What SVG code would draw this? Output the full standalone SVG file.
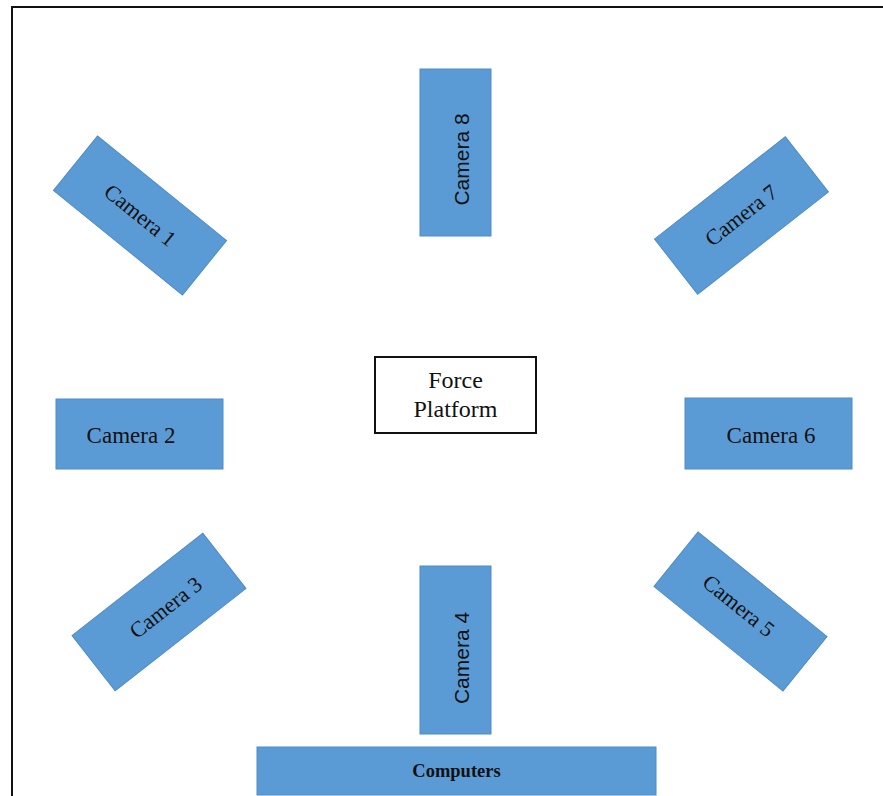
<svg xmlns="http://www.w3.org/2000/svg" width="883" height="796" viewBox="0 0 883 796">
<style>
.cam{fill:#5B9BD5;stroke:#4F8CC6;stroke-width:1}
.t{font-family:"Liberation Serif","Times New Roman",serif;font-size:22px;fill:#111;text-anchor:middle}
.h{font-size:23px}
.s{font-family:"Liberation Sans",Arial,sans-serif;font-size:21px;fill:#111;text-anchor:middle}
</style>
<rect x="12" y="7" width="900" height="820" fill="#fff" stroke="#111" stroke-width="2"/>
<g id="connectors"/>
<g id="camera1" transform="translate(140,215.5) rotate(39)">
<rect class="cam" x="-83" y="-35" width="166" height="70"/>
<text class="t" x="0" y="7">Camera 1</text>
</g>
<g id="camera8" transform="translate(455.5,152.5) rotate(-90)">
<rect class="cam" x="-83.5" y="-35.5" width="167" height="71"/>
<text class="s" x="-7" y="13">Camera 8</text>
</g>
<g id="camera7" transform="translate(741.5,215.5) rotate(-38)">
<rect class="cam" x="-83" y="-35" width="166" height="70"/>
<text class="t" x="0" y="7">Camera 7</text>
</g>
<g id="camera2">
<rect class="cam" x="56" y="399" width="167" height="70"/>
<text class="t h" x="131" y="443">Camera 2</text>
</g>
<g id="forceplatform">
<rect x="375" y="357" width="161" height="76" fill="#fff" stroke="#111" stroke-width="2"/>
<text class="t" x="455.5" y="388" style="font-size:24px">Force</text>
<text class="t" x="455.5" y="417" style="font-size:24px">Platform</text>
</g>
<g id="camera6">
<rect class="cam" x="685" y="398" width="167" height="71"/>
<text class="t h" x="771" y="443">Camera 6</text>
</g>
<g id="camera3" transform="translate(159,612) rotate(-38)">
<rect class="cam" x="-83" y="-35" width="166" height="70"/>
<text class="t" x="8" y="8">Camera 3</text>
</g>
<g id="camera4" transform="translate(455.5,650) rotate(-90)">
<rect class="cam" x="-84" y="-35.5" width="168" height="71"/>
<text class="s" x="-8" y="13">Camera 4</text>
</g>
<g id="camera5" transform="translate(740.5,611.5) rotate(39)">
<rect class="cam" x="-83" y="-35" width="166" height="70"/>
<text class="t" x="-5" y="4">Camera 5</text>
</g>
<g id="computers">
<rect class="cam" x="257" y="747" width="399" height="48"/>
<text class="t" x="456.5" y="777" style="font-weight:bold;font-size:18.5px">Computers</text>
</g>
</svg>
